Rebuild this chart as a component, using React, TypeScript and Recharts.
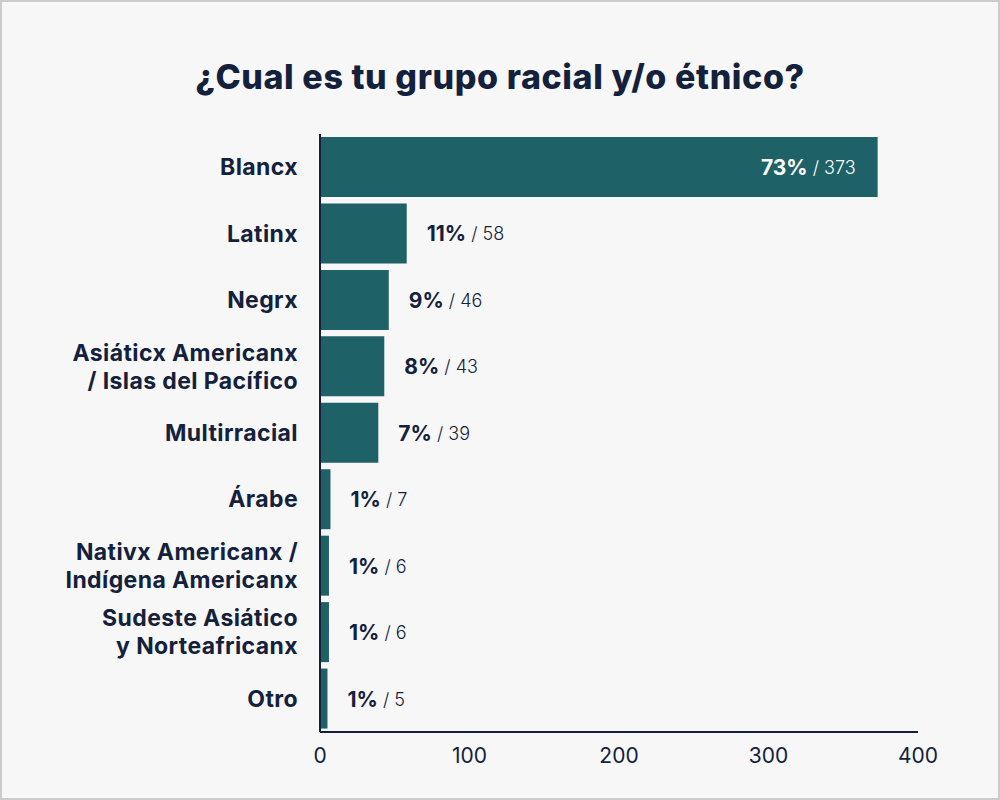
import { BarChart, Bar, XAxis, YAxis, LabelList } from "recharts";

const categories = [
  "Blancx",
  "Latinx",
  "Negrx",
  "Asiáticx Americanx\n/ Islas del Pacífico",
  "Multirracial",
  "Árabe",
  "Nativx Americanx /\nIndígena Americanx",
  "Sudeste Asiático\ny Norteafricanx",
  "Otro",
];
const counts = [373, 58, 46, 43, 39, 7, 6, 6, 5];
const percents = [73, 11, 9, 8, 7, 1, 1, 1, 1];
const xTicks = [0, 100, 200, 300, 400];

const data = categories.map((name, i) => ({ name, count: counts[i], pct: percents[i] }));

const NAVY = "#13213c";
const TEAL = "#1e6166";
const FONT = "Inter, 'Noto Sans', sans-serif";

const CategoryTick = (props: any) => {
  const { x, y, payload } = props;
  const lines = String(payload.value).split("\n");
  const lh = 28;
  const start = -((lines.length - 1) * lh) / 2;
  return (
    <text x={x} y={y} textAnchor="end" fill={NAVY} fontFamily={FONT} fontSize={23} fontWeight={700} letterSpacing={0.4}>
      {lines.map((l, i) => (
        <tspan key={i} x={x} dy={i === 0 ? start : lh} dominantBaseline="central">
          {l}
        </tspan>
      ))}
    </text>
  );
};

const ValueLabel = (props: any) => {
  const { x, y, width, height, index } = props;
  const inside = index === 0;
  const color = inside ? "#ffffff" : NAVY;
  const tx = inside ? x + width - 22 : x + width + 20;
  return (
    <text
      x={tx}
      y={y + height / 2}
      textAnchor={inside ? "end" : "start"}
      dominantBaseline="central"
      fill={color}
      fontFamily={FONT}
    >
      <tspan fontSize={21} fontWeight={700}>{percents[index]}%</tspan>
      <tspan fontSize={18} fontWeight={300}> / {counts[index]}</tspan>
    </text>
  );
};

export default function App() {
  return (
    <div style={{ position: "absolute", left: 0, top: 0, width: 1000, height: 800, background: "#f7f7f7", fontFamily: FONT }}>
      <div
        style={{
          position: "absolute",
          top: 55,
          left: 0,
          width: 1000,
          textAlign: "center",
          fontSize: 34,
          lineHeight: "44px",
          fontWeight: 800,
          letterSpacing: 0.6,
          color: NAVY,
        }}
      >
        ¿Cual es tu grupo racial y/o étnico?
      </div>
      <div style={{ position: "absolute", left: 0, top: 0 }}>
        <BarChart
          width={1000}
          height={800}
          data={data}
          layout="vertical"
          margin={{ top: 134, right: 82, bottom: 28, left: 0 }}
          barCategoryGap={3}
        >
          <XAxis
            type="number"
            domain={[0, 400]}
            ticks={xTicks}
            height={40}
            tickLine={false}
            tickMargin={10}
            axisLine={{ stroke: NAVY, strokeWidth: 2 }}
            tick={{ fill: NAVY, fontSize: 21, fontFamily: FONT }}
          />
          <YAxis
            type="category"
            dataKey="name"
            width={320}
            tickLine={false}
            tickSize={0}
            tickMargin={22}
            axisLine={{ stroke: NAVY, strokeWidth: 2 }}
            tick={<CategoryTick />}
            interval={0}
          />
          <Bar dataKey="count" fill={TEAL} isAnimationActive={false}>
            <LabelList dataKey="count" content={<ValueLabel />} />
          </Bar>
        </BarChart>
      </div>
      <div
        style={{
          position: "absolute",
          left: 0,
          top: 0,
          width: 1000,
          height: 800,
          boxSizing: "border-box",
          border: "2px solid #cccccc",
          pointerEvents: "none",
        }}
      />
    </div>
  );
}
